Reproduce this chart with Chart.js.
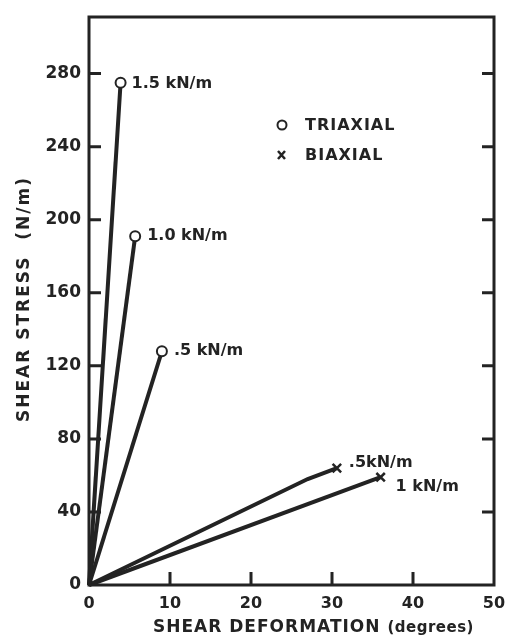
<!DOCTYPE html>
<html lang="en">
<head>
    <meta charset="UTF-8">
    <title>Shear Stress vs Shear Deformation</title>
    <script src="https://cdn.jsdelivr.net/npm/chart.js"></script>
    <style>
        * {
            box-sizing: border-box;
            margin: 0;
            padding: 0;
        }

        body {
            background: #fff;
        }

        .wrap {
            position: relative;
            width: 509px;
            height: 637px;
        }
    </style>
</head>
<body>
    <div class="wrap">
        <canvas id="shearChart"></canvas>
    </div>
    <script>
        // values
        let xTicks = [0, 10, 20, 30, 40, 50];
        let yTicks = [0, 40, 80, 120, 160, 200, 240, 280];

        let tri15X = [0, 3.9];
        let tri15Y = [0, 275];
        let tri10X = [0, 5.7];
        let tri10Y = [0, 191];
        let tri05X = [0, 9.0];
        let tri05Y = [0, 128];

        let bi05X = [0, 27, 30.6];
        let bi05Y = [0, 58, 64];
        let bi10X = [0, 36];
        let bi10Y = [0, 59];

        let triaxialNames = ["1.5 kN/m", "1.0 kN/m", ".5 kN/m"];
        let biaxialNames = [".5kN/m", "1 kN/m"];
        let legendNames = ["TRIAXIAL", "BIAXIAL"];

        const ink = "#232323";
        const font = "'DejaVu Sans', sans-serif";

        function toPoints(xs, ys) {
            return xs.map((x, i) => ({ x: x, y: ys[i] }));
        }

        // only the last point of a curve gets a marker
        function endRadius(xs, r) {
            return xs.map((x, i) => i === xs.length - 1 ? r : 0);
        }

        function triaxialSet(xs, ys, name) {
            return {
                label: name,
                data: toPoints(xs, ys),
                showLine: true,
                borderColor: ink,
                borderWidth: 4,
                pointStyle: "circle",
                pointRadius: endRadius(xs, 5),
                pointBorderWidth: 2,
                pointBackgroundColor: "#fff",
                pointBorderColor: ink,
                clip: false
            };
        }

        function biaxialSet(xs, ys, name) {
            return {
                label: name,
                data: toPoints(xs, ys),
                showLine: true,
                borderColor: ink,
                borderWidth: 4,
                pointStyle: "crossRot",
                pointRadius: endRadius(xs, 6),
                pointBorderWidth: 2.5,
                pointBorderColor: ink,
                clip: false
            };
        }

        // frame, inner tick marks, point labels, legend and axis titles
        const decorations = {
            id: "decorations",
            afterDatasetsDraw(chart) {
                let ctx = chart.ctx;
                let a = chart.chartArea;
                let xs = chart.scales.x;
                let ys = chart.scales.y;

                ctx.save();
                ctx.strokeStyle = ink;
                ctx.fillStyle = ink;
                ctx.lineWidth = 3;
                ctx.lineCap = "butt";
                ctx.strokeRect(a.left, a.top, a.right - a.left, a.bottom - a.top);

                ctx.beginPath();
                yTicks.forEach(v => {
                    if (v === 0) return;
                    let py = ys.getPixelForValue(v);
                    ctx.moveTo(a.left, py);
                    ctx.lineTo(a.left + 12, py);
                    ctx.moveTo(a.right, py);
                    ctx.lineTo(a.right - 12, py);
                });
                xTicks.forEach(v => {
                    if (v === 0 || v === 50) return;
                    let px = xs.getPixelForValue(v);
                    ctx.moveTo(px, a.bottom);
                    ctx.lineTo(px, a.bottom - 13);
                });
                ctx.stroke();

                // labels at the end of each curve
                ctx.font = "bold 16px " + font;
                ctx.textBaseline = "middle";
                ctx.textAlign = "left";
                let offsets = [[11, 1], [12, 0], [12, 0], [12, -5], [15, 10]];
                let names = triaxialNames.concat(biaxialNames);
                chart.data.datasets.forEach((ds, i) => {
                    let last = ds.data[ds.data.length - 1];
                    let px = xs.getPixelForValue(last.x);
                    let py = ys.getPixelForValue(last.y);
                    ctx.fillText(names[i], px + offsets[i][0], py + offsets[i][1]);
                });

                // legend
                ctx.letterSpacing = "1px";
                ctx.fillText(legendNames[0], 305, 126);
                ctx.fillText(legendNames[1], 305, 156);
                ctx.letterSpacing = "0px";
                ctx.lineWidth = 2;
                ctx.beginPath();
                ctx.arc(282, 125, 4.5, 0, Math.PI * 2);
                ctx.stroke();
                ctx.lineWidth = 2.5;
                ctx.beginPath();
                ctx.moveTo(278, 151);
                ctx.lineTo(285, 159);
                ctx.moveTo(285, 151);
                ctx.lineTo(278, 159);
                ctx.stroke();

                // x axis title
                ctx.textBaseline = "alphabetic";
                ctx.font = "bold 17px " + font;
                ctx.letterSpacing = "1px";
                let mainTitle = "SHEAR DEFORMATION ";
                let w1 = ctx.measureText(mainTitle).width;
                ctx.fillText(mainTitle, 153, 632);
                ctx.font = "bold 15px " + font;
                ctx.letterSpacing = "0.5px";
                ctx.fillText("(degrees)", 153 + w1, 632);

                // y axis title
                ctx.translate(29, 299);
                ctx.rotate(-Math.PI / 2);
                ctx.font = "bold 17px " + font;
                ctx.letterSpacing = "2px";
                ctx.textAlign = "center";
                ctx.fillText("SHEAR STRESS  (N/m)", 0, 0);
                ctx.restore();
            }
        };

        let shearChart = new Chart(document.getElementById("shearChart"), {
            type: "scatter",
            data: {
                datasets: [
                    triaxialSet(tri15X, tri15Y, triaxialNames[0]),
                    triaxialSet(tri10X, tri10Y, triaxialNames[1]),
                    triaxialSet(tri05X, tri05Y, triaxialNames[2]),
                    biaxialSet(bi05X, bi05Y, biaxialNames[0]),
                    biaxialSet(bi10X, bi10Y, biaxialNames[1])
                ]
            },
            options: {
                responsive: true,
                maintainAspectRatio: false,
                animation: false,
                layout: {
                    padding: { top: 17, right: 15, left: 2, bottom: 0 }
                },
                plugins: {
                    legend: { display: false },
                    tooltip: { enabled: false }
                },
                scales: {
                    x: {
                        type: "linear",
                        min: 0,
                        max: 50,
                        afterBuildTicks: scale => {
                            scale.ticks = xTicks.map(v => ({ value: v }));
                        },
                        afterFit: scale => {
                            scale.height = 52;
                            scale.paddingRight = 0;
                            scale.paddingLeft = 0;
                        },
                        grid: { display: false, drawTicks: false },
                        border: { display: false },
                        ticks: {
                            padding: 9,
                            color: ink,
                            font: { family: font, size: 16, weight: "bold" }
                        }
                    },
                    y: {
                        type: "linear",
                        min: 0,
                        max: 311,
                        afterBuildTicks: scale => {
                            scale.ticks = yTicks.map(v => ({ value: v }));
                        },
                        afterFit: scale => {
                            scale.width = 87;
                            scale.paddingTop = 0;
                            scale.paddingBottom = 0;
                        },
                        grid: { display: false, drawTicks: false },
                        border: { display: false },
                        ticks: {
                            padding: 8,
                            color: ink,
                            font: { family: font, size: 17, weight: "bold" }
                        }
                    }
                }
            },
            plugins: [decorations]
        });
    </script>
</body>
</html>
